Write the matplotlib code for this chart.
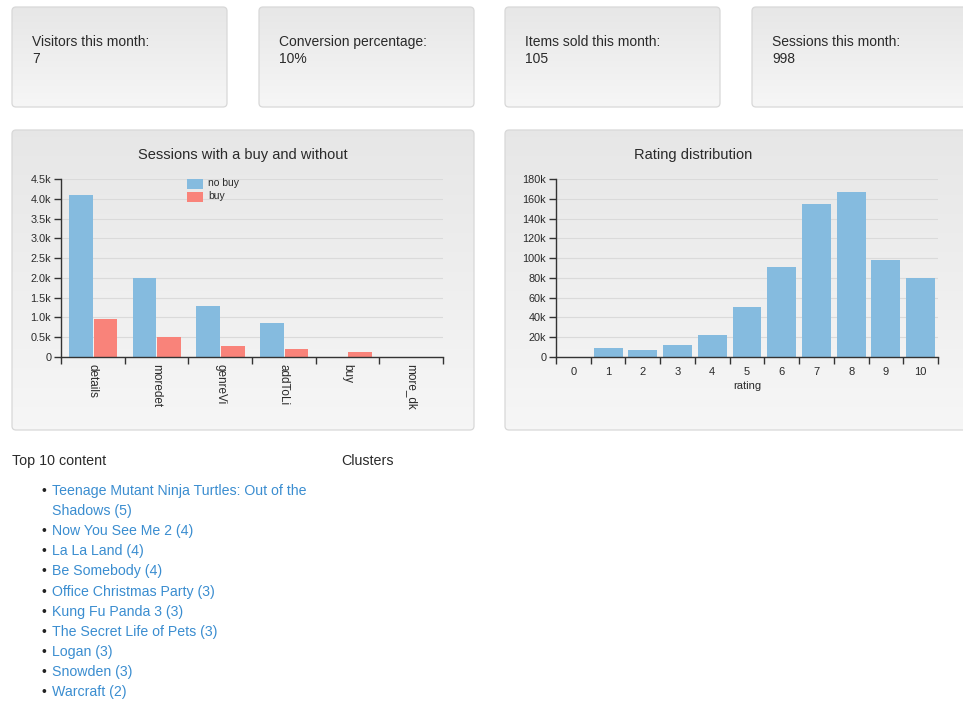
import matplotlib.pyplot as plt
import numpy as np
from matplotlib.patches import FancyBboxPatch, Rectangle

plt.rcParams['font.family'] = ['Liberation Sans', 'DejaVu Sans']

# --- data ---
card_labels = ["Visitors this month:", "Conversion percentage:", "Items sold this month:", "Sessions this month:"]
card_values = ["7", "10%", "105", "998"]

actions = ["details", "moredet", "genreVi", "addToLi", "buy", "more_dk"]
no_buy = [4100, 2000, 1300, 870, 0, 10]
buy = [950, 500, 280, 200, 120, 0]
series_names = ["no buy", "buy"]

ratings = list(range(11))
rating_counts = [500, 9000, 7500, 12500, 22000, 51000, 91000, 155000, 167000, 98000, 80000]

top_content = [
    "Teenage Mutant Ninja Turtles: Out of the\nShadows (5)",
    "Now You See Me 2 (4)",
    "La La Land (4)",
    "Be Somebody (4)",
    "Office Christmas Party (3)",
    "Kung Fu Panda 3 (3)",
    "The Secret Life of Pets (3)",
    "Logan (3)",
    "Snowden (3)",
    "Warcraft (2)",
]

BLUE = '#85bbdf'
RED = '#f9837a'
LINK = '#3a8dd0'
TXT = '#2a2a2a'

W, H = 963, 703
fig = plt.figure(figsize=(W / 100, H / 100), dpi=100)
fig.patch.set_facecolor('white')

bg = fig.add_axes([0, 0, 1, 1], zorder=0)
bg.set_xlim(0, W)
bg.set_ylim(H, 0)
bg.axis('off')


def panel(x0, y0, x1, y1):
    patch = FancyBboxPatch((x0, y0), x1 - x0, y1 - y0,
                           boxstyle="round,pad=0,rounding_size=4",
                           fc='none', ec='#d8d8d8', lw=0.9, zorder=2)
    bg.add_patch(patch)
    t = np.linspace(0, 1, 64)[:, None]
    top = np.array([0.905, 0.905, 0.905])
    bot = np.array([0.965, 0.965, 0.965])
    grad = (top * (1 - t) + bot * t)[:, None, :].repeat(2, axis=1)
    im = bg.imshow(grad, extent=(x0, x1, y1, y0), origin='upper',
                   aspect='auto', zorder=1, interpolation='bilinear')
    im.set_clip_path(patch)


# stat cards
card_x = [12, 259, 505, 752]
for cx, lab, val in zip(card_x, card_labels, card_values):
    panel(cx, 7, min(cx + 215, 975), 107)
    bg.text(cx + 20, 42, lab, fontsize=10, color=TXT, va='center', ha='left')
    bg.text(cx + 20, 59, val, fontsize=10, color=TXT, va='center', ha='left')

# chart panels
panel(12, 130, 474, 430)
panel(505, 130, 975, 430)
bg.text(243, 155, "Sessions with a buy and without", fontsize=10.5, color=TXT, ha='center', va='center')
bg.text(693, 155, "Rating distribution", fontsize=10.5, color=TXT, ha='center', va='center')


def style_axes(ax):
    ax.set_facecolor('none')
    for s in ['top', 'right']:
        ax.spines[s].set_visible(False)
    for s in ['left', 'bottom']:
        ax.spines[s].set_color('#333333')
        ax.spines[s].set_linewidth(1)
    ax.tick_params(axis='y', length=5, width=1, color='#333333', labelsize=7.8, labelcolor=TXT, pad=2)
    ax.tick_params(axis='x', which='major', length=0, labelsize=8, labelcolor=TXT)
    ax.tick_params(axis='x', which='minor', length=5, width=1, color='#333333')
    ax.yaxis.grid(True, color='#dadada', lw=0.8)
    ax.set_axisbelow(True)


# left chart: sessions with/without buy
ax1 = fig.add_axes([61 / W, 1 - 357 / H, (443 - 61) / W, (357 - 179) / H], zorder=2)
style_axes(ax1)
x = np.arange(len(actions))
ax1.bar(x - 0.19, no_buy, width=0.37, color=BLUE, zorder=2)
ax1.bar(x + 0.20, buy, width=0.37, color=RED, zorder=2)
ax1.set_xlim(-0.5, len(actions) - 0.5)
ax1.set_ylim(0, 4500)
yt = np.arange(0, 4501, 500)
ax1.set_yticks(yt)
ax1.set_yticklabels(['0'] + [f'{v / 1000:.1f}k' for v in yt[1:]])
ax1.set_xticks(x)
ax1.set_xticklabels(actions, rotation=-90, va='top', ha='center', fontsize=8.5)
ax1.set_xticks(np.arange(-0.5, len(actions)), minor=True)
ax1.tick_params(axis='x', which='major', pad=5)

# legend of the left chart, placed in page pixels above the gridlines
for i, (name, col) in enumerate(zip(series_names, [BLUE, RED])):
    y = 179 + i * 13
    ax1.add_patch(Rectangle((187, y), 16, 10, fc=col, ec='none', zorder=5,
                            transform=bg.transData, clip_on=False))
    ax1.text(208, y + 4, name, fontsize=7.5, color=TXT, va='center', ha='left',
             zorder=5, transform=bg.transData)

# right chart: rating distribution
ax2 = fig.add_axes([556 / W, 1 - 357 / H, (938 - 556) / W, (357 - 179) / H], zorder=2)
style_axes(ax2)
ax2.bar(ratings, rating_counts, width=0.83, color=BLUE, zorder=2)
ax2.set_xlim(-0.5, len(ratings) - 0.5)
ax2.set_ylim(0, 180000)
yt2 = np.arange(0, 180001, 20000)
ax2.set_yticks(yt2)
ax2.set_yticklabels(['0'] + [f'{int(v / 1000)}k' for v in yt2[1:]])
ax2.set_xticks(ratings)
ax2.set_xticks(np.arange(-0.5, len(ratings)), minor=True)
ax2.tick_params(axis='x', which='major', pad=7)
ax2.set_xlabel("rating", fontsize=8, color=TXT, labelpad=3)

# lists
bg.text(12, 461, "Top 10 content", fontsize=10.3, color=TXT, va='center', ha='left')
bg.text(341, 461, "Clusters", fontsize=10.3, color=TXT, va='center', ha='left')
y = 491
for item in top_content:
    bg.text(41, y, "\u2022", fontsize=10, color='#222222', va='center', ha='left')
    lines = item.split('\n')
    for ln in lines:
        bg.text(52, y, ln, fontsize=10.2, color=LINK, va='center', ha='left')
        y += 20.1

fig.savefig('out.png', dpi=100)
